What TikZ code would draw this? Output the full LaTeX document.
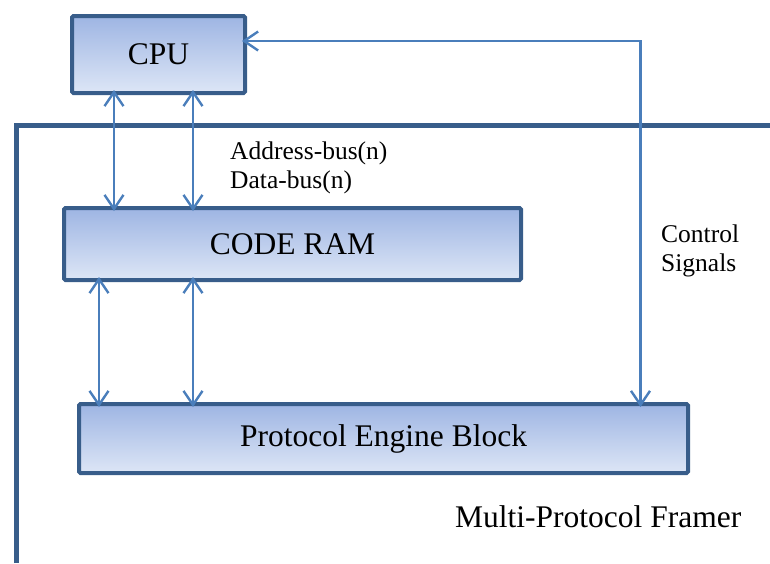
\documentclass[tikz,border=0pt]{standalone}
\usepackage{fontspec}
\setmainfont{Liberation Serif}
\usetikzlibrary{arrows.meta}
\definecolor{boxborder}{HTML}{385D8A}
\definecolor{arrowblue}{HTML}{4A7EBB}
\definecolor{filltop}{HTML}{9EB5E3}
\definecolor{fillbot}{HTML}{DDE6F6}
\tikzset{
  block/.style={draw=boxborder, line width=4pt, rounded corners=1.5pt,
    top color=filltop, bottom color=fillbot, inner sep=0pt, outer sep=0pt,
    font=\fontsize{31.5}{33}\selectfont},
  biarrow/.style={draw=arrowblue, line width=2.4pt, shorten <=-3pt, shorten >=-3pt,
    {Straight Barb[length=14pt,width=19pt,line width=2.4pt]}-{Straight Barb[length=14pt,width=19pt,line width=2.4pt]}},
  lbl/.style={font=\fontsize{25.5}{27}\selectfont, inner sep=0pt, anchor=base west},
}
\begin{document}
\begin{tikzpicture}[x=1pt,y=-1pt]
\useasboundingbox (0,0) rectangle (770,563);
% framer border
\draw[boxborder, line width=5pt] (16,563) -- (16,125) -- (770,125);
\node[block, minimum width=173pt, minimum height=77pt] (cpu) at (158.5,54.5) {CPU};
\node[block, minimum width=457pt, minimum height=72pt] (ram) at (292.5,244) {CODE RAM};
\node[block, minimum width=609pt, minimum height=69pt] (pe) at (383.5,438.5) {Protocol Engine Block};
% buses
\draw[biarrow] (cpu.south -| 114,0) -- (ram.north -| 114,0);
\draw[biarrow] (cpu.south -| 193,0) -- (ram.north -| 193,0);
\draw[biarrow] (ram.south -| 99,0) -- (pe.north -| 99,0);
\draw[biarrow] (ram.south -| 193,0) -- (pe.north -| 193,0);
% control signals
\coordinate (cc) at (640.5,41);
\draw[biarrow] (cpu.east |- cc) -- (cc) -- (pe.north -| cc);
% labels
\node[lbl] (ab) at (230,159) {Address-bus(n)};
\node[lbl] (db) at (230,188) {Data-bus(n)};
\node[lbl] (c1) at (661,242) {Control};
\node[lbl] (c2) at (661,271) {Signals};
\node[font=\fontsize{31.5}{33}\selectfont, inner sep=0pt, anchor=base west] (mpf) at (455,527) {Multi-Protocol Framer};
\end{tikzpicture}
\end{document}
